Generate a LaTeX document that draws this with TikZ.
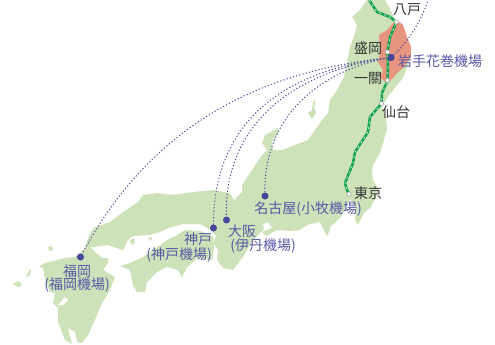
\documentclass[tikz,border=0pt]{standalone}
\usepackage{fontspec}
\setmainfont{Noto Sans CJK JP}
\definecolor{land}{HTML}{CDE2B8}
\definecolor{iwate}{HTML}{E8957F}
\definecolor{rail}{HTML}{12A150}
\definecolor{air}{HTML}{45459A}
\definecolor{ink}{HTML}{333333}
\definecolor{airtext}{HTML}{5858A6}
\tikzset{
 landshape/.style={fill=land,draw=none},
 flight/.style={draw=air,line width=0.9pt,dash pattern=on 1.3pt off 2pt},
 apt/.style={circle,fill=air,draw=none,minimum size=7pt,inner sep=0pt},
 stn/.style={circle,fill=white,draw=gray!70,line width=0.5pt,minimum size=4pt,inner sep=0pt},
 lblk/.style={font=\fontsize{14}{14}\selectfont,text=ink,inner sep=0pt},
 lblb/.style={font=\fontsize{14}{14}\selectfont,text=airtext,inner sep=0pt},
}
\begin{document}
\begin{tikzpicture}[x=1pt,y=-1pt]
\useasboundingbox (0,0) rectangle (495,345);
% Honshu
\fill[landshape] (367,0) -- (360,10) -- (352,17) -- (357,25) -- (355,33) -- (350,47) -- (347,62) -- (344,77) -- (337,90) -- (330,100) -- (328,113) -- (322,120) -- (308,140) -- (295,145) -- (282,150) -- (273,150) -- (272,142) -- (278,133) -- (278,128) -- (265,135) -- (262,143) -- (267,150) -- (262,155) -- (250,173) -- (242,185) -- (242,192) -- (234,200) -- (230,193) -- (213,190) -- (193,192) -- (173,195) -- (157,193) -- (143,195) -- (138,202) -- (123,212) -- (110,222) -- (93,228) -- (88,238) -- (85,248) -- (93,247) -- (108,245) -- (123,250) -- (128,240) -- (133,236) -- (150,235) -- (157,233) -- (172,227) -- (183,224) -- (200,224) -- (212,231) -- (216,236) -- (213,243) -- (218,250) -- (217,260) -- (223,268) -- (233,270) -- (243,257) -- (253,240) -- (260,233) -- (264,229) -- (263,224) -- (268,222) -- (272,228) -- (262,232) -- (266,236) -- (277,230) -- (290,231) -- (300,230) -- (307,225) -- (315,223) -- (320,222) -- (327,237) -- (331,226) -- (340,218) -- (347,206) -- (350,199) -- (356,207) -- (355,220) -- (358,225) -- (364,213) -- (371,207) -- (379,190) -- (373,180) -- (372,173) -- (373,165) -- (380,153) -- (383,143) -- (387,130) -- (386,117) -- (382,107) -- (387,98) -- (397,85) -- (403,78) -- (410,60) -- (405,30) -- (395,20) -- (392,13) -- (385,0) -- cycle;
% Shikoku
\fill[landshape] (120,266) -- (130,263) -- (143,257) -- (153,250) -- (167,240) -- (177,235) -- (185,230) -- (200,231) -- (213,236) -- (214,248) -- (212,260) -- (198,258) -- (187,267) -- (182,277) -- (178,270) -- (167,267) -- (157,272) -- (147,282) -- (145,292) -- (137,292) -- (133,285) -- (130,270) -- cycle;
% Kyushu
\fill[landshape] (90,246) -- (83,250) -- (75,257) -- (65,258) -- (57,260) -- (45,263) -- (39,267) -- (43,268) -- (45,280) -- (50,292) -- (55,293) -- (53,303) -- (58,308) -- (58,322) -- (62,332) -- (65,340) -- (72,344) -- (68,328) -- (75,332) -- (77,342) -- (82,343) -- (88,335) -- (95,320) -- (102,303) -- (110,290) -- (115,277) -- (103,270) -- (108,263) -- (108,258) -- (102,258) -- (93,250) -- cycle;
\fill[white] (65,297) -- (68,300) -- (63,305) -- (58,305) -- cycle;
% small islands
\fill[landshape] (48,247) -- (52,246) -- (53,250) -- (49,251) -- cycle;
\fill[landshape] (26,278) -- (29,270) -- (31,269) -- (30,275) -- cycle;
\fill[landshape] (13,284) -- (18,281) -- (22,284) -- (20,287) -- (16,286) -- cycle;
\fill[landshape] (313,102) -- (316,100) -- (314,107) -- (316,113) -- (312,119) -- (308,113) -- (312,110) -- cycle;
\fill[landshape] (130,240) -- (134,238) -- (135,243) -- (131,245) -- cycle;
\fill[landshape] (148,238) -- (152,237) -- (151,241) -- cycle;
% Iwate
\fill[iwate] (397,20) -- (403,25) -- (407,37) -- (411,47) -- (411,57) -- (405,65) -- (403,68) -- (397,73) -- (393,78) -- (387,84) -- (380,77) -- (383,70) -- (378,62) -- (380,53) -- (379,35) -- (387,30) -- (393,23) -- cycle;
% coordinates
\node[apt] (hub) at (391,57.5) {};
\node[apt] (nagoya) at (265,196) {};
\node[apt] (osaka) at (226.5,220) {};
\node[apt] (kobe) at (213.5,228) {};
\node[apt] (fukuoka) at (80.5,257) {};
\coordinate (ne) at (428,0);
\coordinate (railtop) at (369,0);
% flights
\draw[flight] (hub.center) .. controls (310,72) and (262,125) .. (nagoya.center);
\draw[flight] (hub.center) .. controls (300,70) and (222,120) .. (osaka.center);
\draw[flight] (hub.center) .. controls (300,68) and (212,110) .. (kobe.center);
\draw[flight] (hub.center) .. controls (290,68) and (160,105) .. (fukuoka.center);
\draw[flight] (hub.center) .. controls (405,45) and (420,25) .. (ne);
% stations
\node[stn] (hachinohe) at (396.5,22) {};
\node[stn] (morioka) at (387.5,52) {};
\node[stn] (ichinoseki) at (387.5,80.5) {};
\node[stn] (sendai) at (381.5,103.5) {};
\node[stn] (tokyo) at (349,194) {};
% rail
\def\railpath{(railtop) -- (377,12) -- (390,17) -- (hachinohe.center) -- (390,37) -- (morioka.center) -- (388,67) -- (ichinoseki.center) -- (382,93) -- (sendai.center) -- (370,117) -- (368,132) -- (355,152) -- (353,163) -- (345,183) -- (347,190) -- (tokyo.center)}
\draw[rail,line width=2.5pt,line join=round] \railpath;
\draw[white,line width=0.6pt,dash pattern=on 2pt off 3.5pt,line join=round] \railpath;
\node[stn] at (hachinohe) {};
\node[stn] at (morioka) {};
\node[stn] at (ichinoseki) {};
\node[stn] at (sendai) {};
\node[stn] at (tokyo) {};
\node[apt] at (hub) {};
% labels
\node[lblk] (t1) at (407,10) {八戸};
\node[lblk] (t2) at (368,48) {盛岡};
\node[lblk] (t3) at (368,78) {一關};
\node[lblk] (t4) at (396,112) {仙台};
\node[lblk] (t5) at (368,193) {東京};
\node[lblb] (t6) at (440,61) {岩手花巻機場};
\node[lblb] (t7) at (308,209) {名古屋(小牧機場)};
\node[lblb] (t8) at (242,231) {大阪};
\node[lblb] (t9) at (263,246) {(伊丹機場)};
\node[lblb] (t10) at (198,239) {神戸};
\node[lblb] (t11) at (179,255) {(神戸機場)};
\node[lblb] (t12) at (77,271) {福岡};
\node[lblb] (t13) at (77,285) {(福岡機場)};
\end{tikzpicture}
\end{document}
